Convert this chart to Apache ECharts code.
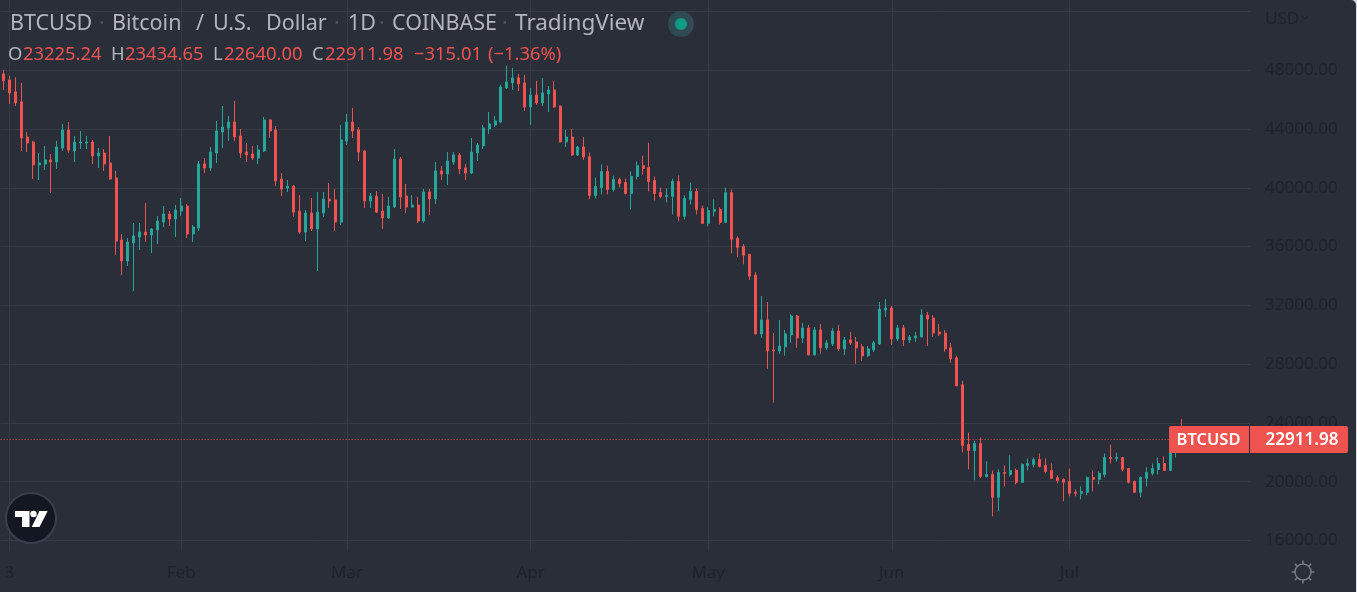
<!DOCTYPE html>
<html>
<head>
<meta charset="utf-8">
<title>BTCUSD</title>
<style>
  html, body { margin: 0; padding: 0; background: #d8dbe2; }
  #chart { width: 1356px; height: 592px; border-top-right-radius: 5px; overflow: hidden; }
</style>
<script src="https://cdn.jsdelivr.net/npm/echarts@6/dist/echarts.min.js"></script>
</head>
<body>
<div id="chart"></div>
<script>
  // daily candles, 2 Jan to 20 Jul
  var opens = [
    47750,47340,46530,45850,43460,43120,41560,41620,41900,41760,
    42710,43940,42510,43050,43050,43120,42170,42370,41690,40670,
    36450,35020,36240,36650,36990,36790,37130,37670,38220,37880,
    38420,38760,36860,37260,41620,41350,42370,43800,44070,44480,
    43530,42440,42300,42030,42510,44620,43940,40600,39990,40120,
    38420,36990,38290,37200,38290,39240,39170,37670,
    43190,44480,43940,42510,39100,39440,38420,37950,38690,41960,
    39440,38690,38830,37740,39720,39240,41150,40940,41760,42240,
    41350,41010,42370,42850,44010,44280,44480,46800,47140,47480,47140,
    45500,46320,45780,46390,46660,45570,43120,43460,42240,42780,
    42120,39480,40020,41110,39890,40570,40360,39620,40770,41510,
    41380,40500,39680,39410,39410,40430,38060,39210,39750,38600,
    37580,38400,38530,37650,39680,36570,36020,35480,34060,30060,
    31010,28970,28900,29180,29990,31280,29790,30460,28630,30330,
    29110,29380,30260,29040,29650,29510,29180,28570,28970,29380,31680,
    31820,29720,30460,29650,29790,29850,31350,31140,30190,30120,
    29110,28430,26600,22530,22120,22600,20360,20500,18940,20630,
    20500,20770,19960,21110,21180,21510,21110,20770,20290,20160,
    20020,19280,19210,19280,20290,20160,20500,21650,21580,21650,
    20900,20020,19280,20230,20570,20840,21240,20770,22460,23225.24
  ];
  var highs = [
    48020,47620,47530,47140,43800,43190,42370,42850,42300,43190,
    44350,44480,43530,43870,43530,43260,42710,42640,43530,41150,
    36860,36580,37610,37610,38970,37260,38080,38760,38420,38830,
    39310,38900,37470,41830,42030,42780,44550,45570,44890,45910,
    44010,43050,42850,42920,44820,44640,44210,41010,40530,40190,
    39510,38490,39310,39720,39720,40330,39920,44280,
    45030,45440,44140,42580,39650,39780,39580,39380,42640,42100,
    40260,39510,39380,39920,39920,41760,41490,42440,42440,42370,
    41620,43390,43050,44280,45160,44890,47000,48300,48160,47750,47680,
    46800,47280,47480,46930,47280,45600,43940,44010,42850,43460,
    42400,40700,41580,41510,40840,40700,40630,41110,41790,42190,
    43070,40770,40020,39960,40630,40840,39480,40360,39960,38800,
    38670,39210,38670,40020,39890,36700,36160,35500,34260,32630,
    32230,30120,31010,30330,31410,31350,30800,30670,30530,30740,
    29650,30460,30670,29850,30190,29850,29380,29240,29580,32230,32430,
    31960,30670,30670,29990,30190,31750,31550,31350,30740,30330,
    29450,28570,26870,23350,22800,23010,21380,20770,20840,21110,
    21790,20900,21240,21580,21650,21920,21580,21240,20430,20230,
    20900,19480,19680,20360,20770,20700,21920,22530,21990,21680,
    20930,20090,20360,20970,21240,21650,21720,22700,23800,24285
  ];
  var lows = [
    46660,45710,45570,42510,42440,40600,40530,41210,39650,41280,
    42510,42370,41760,42640,42640,41620,41350,41150,40550,35430,
    34060,34680,32970,35770,36310,35560,36180,37330,37400,36650,
    38080,36580,36310,37060,41010,41150,41690,42710,43190,43190,
    42030,41760,41900,41620,42440,43390,40120,39440,39720,38010,
    36860,36380,37060,34340,38010,38630,37060,37470,
    42920,43390,41830,38630,38630,38290,37200,37880,38640,38560,
    38290,38650,37610,37610,38150,38900,40530,40190,41560,40940,
    40530,40940,41830,42640,43670,44140,44440,46730,46660,46590,45230,
    44280,45640,45570,45160,45440,43090,42780,42170,42170,41900,
    39210,39280,39550,39550,39750,40020,39550,38530,40570,40900,
    39750,39140,39280,39010,38190,37720,37850,38870,38190,37550,
    37380,38060,37510,37620,35550,35280,34800,33720,30030,29790,
    27680,25380,28700,28570,29450,29110,29450,28600,28600,28700,
    28970,29240,28900,28630,29310,28020,28230,28500,28840,29310,31210,
    29310,29580,29240,29450,29510,29830,29240,29850,29920,28840,
    28090,26500,21990,20840,20090,20230,20290,17650,17990,19680,
    20360,19820,19930,20770,20970,20970,20570,20200,19890,18670,
    19010,19010,18800,19070,19340,19820,20290,21240,21380,20700,
    19890,19250,18940,19680,20430,20500,20740,20740,21650,22640
  ];
  var closes = [
    47280,46460,45780,43390,43050,41560,41690,41900,41760,42780,
    43940,42580,43120,43120,43120,42170,42370,41620,40600,36380,
    35020,36310,36720,36990,36790,37200,37740,38220,37880,38490,
    38760,36860,37330,41620,41350,42440,43870,44140,44480,43460,
    42370,42240,42030,42580,44620,43870,40470,39920,40120,38350,
    36990,38290,37200,38350,39240,39100,37670,43260,
    44480,43870,42440,39100,39440,38350,37950,38760,41960,39380,
    38690,38830,37740,39720,39240,41150,40940,41830,42240,41280,
    41010,42440,42920,44070,44350,44550,46870,47210,47480,47070,45500,
    46320,45780,46460,46660,45500,43120,43460,42240,42780,42100,
    39480,40090,41110,39890,40570,40290,39620,40770,41510,41310,
    40430,39620,39410,39480,40430,38060,39280,39750,38530,37580,
    38460,38530,37650,39680,36500,35950,35410,33990,30060,31010,
    28900,28900,29240,30060,31280,29790,30460,28630,30330,29110,
    29450,30260,29040,29650,29450,29110,28570,29040,29450,31750,31820,
    29720,30460,29650,29850,29920,31350,31070,30120,30060,29040,
    28360,26530,22460,22120,22600,20360,20500,18940,20630,20570,
    20770,19960,21180,21240,21510,21040,20700,20230,20090,19960,
    19210,19210,19340,20290,20160,20570,21650,21580,21650,20840,
    19960,19280,20290,20630,20900,21240,20770,22460,23220,22911.98
  ];

  // time axis runs on past the last candle, up to the price scale
  var firstDay = Date.UTC(2022, 0, 2);
  var dayCount = 211;
  var categories = [];
  for (var i = 0; i < dayCount; i++) {
    categories.push(new Date(firstDay + i * 86400000).toISOString().slice(0, 10));
  }
  var timeTicks = {
    '2022-01-03': '3',
    '2022-02-01': 'Feb',
    '2022-03-01': 'Mar',
    '2022-04-01': 'Apr',
    '2022-05-01': 'May',
    '2022-06-01': 'Jun',
    '2022-07-01': 'Jul'
  };
  var priceMin = 16000;
  var priceMax = 52000;
  var priceStep = 4000;

  var candles = [];
  for (var j = 0; j < opens.length; j++) {
    candles.push([opens[j], closes[j], lows[j], highs[j]]);
  }

  var fontName = '"Noto Sans", sans-serif';
  var bg = '#2a2e39';
  var gridColor = '#363a45';
  var axisText = '#1e222d';
  var upColor = '#26a69a';
  var downColor = '#ef5350';
  var titleColor = '#b2b5be';
  var dotColor = '#4f525d';

  function isTick(idx, value) {
    return timeTicks[value] !== undefined;
  }

  // 顶部标题
  function txt(x, y, text, color, size, extra) {
    var style = {
      x: x, y: y, text: text, fill: color,
      font: (extra && extra.weight ? extra.weight + ' ' : '') + size + 'px ' + fontName,
      textAlign: extra && extra.align ? extra.align : 'left',
      textVerticalAlign: 'middle'
    };
    return { type: 'text', z: 100, silent: true, style: style };
  }

  var graphics = [
    txt(10, 24, 'BTCUSD', titleColor, 21.5),
    txt(102, 24, '·', dotColor, 21.5, { align: 'center' }),
    txt(112, 24, 'Bitcoin', titleColor, 21.5),
    txt(196, 24, '/', titleColor, 21.5),
    txt(213, 24, 'U.S.', titleColor, 21.5),
    txt(266, 24, 'Dollar', titleColor, 21.5),
    txt(337, 24, '·', dotColor, 21.5, { align: 'center' }),
    txt(348, 24, '1D', titleColor, 21.5),
    txt(382, 24, '·', dotColor, 21.5, { align: 'center' }),
    txt(392, 24, 'COINBASE', titleColor, 21.5),
    txt(505, 24, '·', dotColor, 21.5, { align: 'center' }),
    txt(515, 24, 'TradingView', titleColor, 22.5),
    // 状态点
    { type: 'circle', z: 100, silent: true, shape: { cx: 681, cy: 24, r: 13 }, style: { fill: '#2f4a50' } },
    { type: 'circle', z: 101, silent: true, shape: { cx: 681, cy: 24, r: 6 }, style: { fill: '#0c9b83' } },

    txt(8, 55, 'O', titleColor, 18.4),
    txt(23, 55, '23225.24', downColor, 18.4),
    txt(111, 55, 'H', titleColor, 18.4),
    txt(125, 55, '23434.65', downColor, 18.4),
    txt(213, 55, 'L', titleColor, 18.4),
    txt(224, 55, '22640.00', downColor, 18.4),
    txt(312, 55, 'C', titleColor, 18.4),
    txt(325, 55, '22911.98', downColor, 18.4),
    txt(414, 55, '−315.01', downColor, 18.4),
    txt(488, 55, '(−1.36%)', downColor, 18.4),

    txt(1265, 19, 'USD', axisText, 17),
    { type: 'polyline', z: 100, silent: true, shape: { points: [[1302, 16], [1305, 19], [1308, 16]] },
      style: { stroke: axisText, lineWidth: 1.5, fill: null } },

    // 当前价格标签
    { type: 'rect', z: 100, silent: true, shape: { x: 1169, y: 426, width: 179, height: 27, r: 2 }, style: { fill: downColor } },
    { type: 'rect', z: 101, silent: true, shape: { x: 1249, y: 426, width: 1, height: 27 }, style: { fill: bg } },
    txt(1208.5, 440, 'BTCUSD', '#ffffff', 16.5, { align: 'center', weight: 600 }),
    txt(1302, 440, '22911.98', '#ffffff', 17, { align: 'center', weight: 600 }),

    // logo
    { type: 'circle', z: 100, silent: true, shape: { cx: 31, cy: 518, r: 25 }, style: { fill: '#131722', stroke: '#3b3f4b', lineWidth: 2 } },
    { type: 'polygon', z: 101, silent: true, shape: { points: [[15, 511], [29.5, 511], [29.5, 527], [22, 527], [22, 517], [15, 517]] }, style: { fill: '#ffffff' } },
    { type: 'circle', z: 101, silent: true, shape: { cx: 33.5, cy: 514, r: 3.2 }, style: { fill: '#ffffff' } },
    { type: 'polygon', z: 101, silent: true, shape: { points: [[39.5, 511], [47.7, 511], [39.5, 527], [31.7, 527]] }, style: { fill: '#ffffff' } },

    // 设置图标
    { type: 'circle', z: 100, silent: true, shape: { cx: 1303, cy: 572, r: 8 }, style: { fill: null, stroke: '#787b86', lineWidth: 1.5 } }
  ];
  for (var k = 0; k < 8; k++) {
    var a = k * Math.PI / 4;
    graphics.push({
      type: 'line', z: 100, silent: true,
      shape: { x1: 1303 + 8 * Math.cos(a), y1: 572 + 8 * Math.sin(a), x2: 1303 + 11.5 * Math.cos(a), y2: 572 + 11.5 * Math.sin(a) },
      style: { stroke: '#787b86', lineWidth: 1.5 }
    });
  }

  var chart = echarts.init(document.getElementById('chart'));
  var option = {
    backgroundColor: bg,
    animation: false,
    textStyle: { fontFamily: fontName },
    // 第一个 grid 画蜡烛和价格线，第二个只负责时间轴
    grid: [
      { left: 0.6, width: 1249.4, top: 11.5, height: 529 },
      { left: 0.6, width: 1249.4, top: 0, height: 551 }
    ],
    xAxis: [{
      type: 'category',
      gridIndex: 0,
      data: categories,
      show: false
    }, {
      type: 'category',
      gridIndex: 1,
      data: categories,
      axisLine: { show: false },
      axisTick: { show: false },
      axisLabel: {
        color: axisText,
        fontSize: 17,
        margin: 14,
        interval: isTick,
        hideOverlap: false,
        formatter: function (value) {
          return timeTicks[value] || '';
        }
      },
      splitLine: {
        show: true,
        alignWithLabel: true,
        interval: isTick,
        lineStyle: { color: gridColor, width: 1 }
      }
    }],
    yAxis: [{
      type: 'value',
      gridIndex: 0,
      position: 'right',
      min: priceMin,
      max: priceMax,
      interval: priceStep,
      axisLine: { show: false },
      axisTick: { show: false },
      axisLabel: {
        color: axisText,
        fontSize: 17,
        margin: 15,
        align: 'left',
        padding: [3, 0, 0, 0],
        formatter: function (value) {
          return value === priceMax ? '' : value.toFixed(2);
        }
      },
      splitLine: { show: true, lineStyle: { color: gridColor, width: 1 } }
    }, {
      type: 'value',
      gridIndex: 1,
      show: false,
      min: 0,
      max: 1
    }],
    series: [{
      type: 'candlestick',
      xAxisIndex: 0,
      yAxisIndex: 0,
      data: candles,
      barWidth: 2.5,
      clip: false,
      itemStyle: {
        color: upColor,
        color0: downColor,
        borderColor: upColor,
        borderColor0: downColor,
        borderWidth: 1
      },
      markLine: {
        silent: true,
        symbol: 'none',
        animation: false,
        label: { show: false },
        lineStyle: { color: downColor, type: [1, 2], width: 1, opacity: 0.9 },
        data: [{ yAxis: closes[closes.length - 1] }]
      }
    }],
    graphic: graphics
  };
  chart.setOption(option);
</script>
</body>
</html>
